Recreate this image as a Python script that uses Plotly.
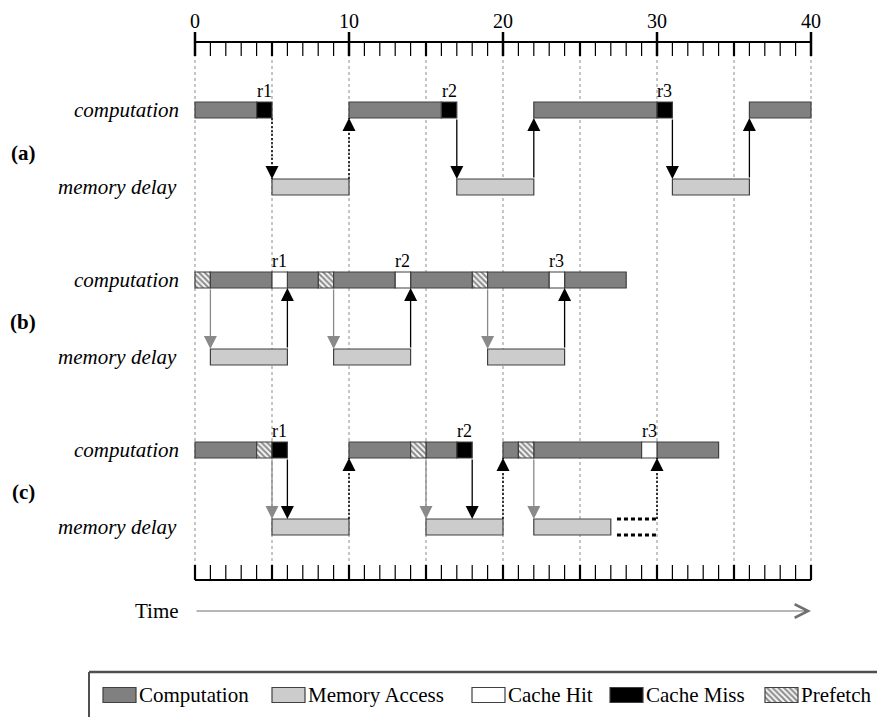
import plotly.graph_objects as go

# ---------------- data ----------------
TICK_VALUES = [0, 10, 20, 30, 40]
TICK_LABELS = ["0", "10", "20", "30", "40"]
MINOR_TICKS = list(range(0, 41))
GRID_VALUES = [0, 5, 10, 15, 20, 25, 30, 35, 40]

# (a) no prefetching
A_COMP_START = [0, 4, 10, 16, 22, 30, 36]
A_COMP_END = [4, 5, 16, 17, 30, 31, 40]
A_COMP_KIND = ["comp", "miss", "comp", "miss", "comp", "miss", "comp"]
A_MEM_START = [5, 17, 31]
A_MEM_END = [10, 22, 36]
A_REQ_X = [4.5, 16.5, 30.5]
A_ARROW_X = [5, 10, 17, 22, 31, 36]
A_ARROW_DIR = ["down", "up", "down", "up", "down", "up"]
A_ARROW_KIND = ["demand"] * 6

# (b) perfect prefetching
B_COMP_START = [0, 1, 5, 6, 8, 9, 13, 14, 18, 19, 23, 24]
B_COMP_END = [1, 5, 6, 8, 9, 13, 14, 18, 19, 23, 24, 28]
B_COMP_KIND = ["pref", "comp", "hit", "comp", "pref", "comp", "hit", "comp", "pref", "comp", "hit", "comp"]
B_MEM_START = [1, 9, 19]
B_MEM_END = [6, 14, 24]
B_REQ_X = [5.5, 13.5, 23.5]
B_ARROW_X = [1, 6, 9, 14, 19, 24]
B_ARROW_DIR = ["down", "up", "down", "up", "down", "up"]
B_ARROW_KIND = ["prefetch", "demand", "prefetch", "demand", "prefetch", "demand"]

# (c) late prefetching
C_COMP_START = [0, 4, 5, 10, 14, 15, 17, 20, 21, 22, 29, 30]
C_COMP_END = [4, 5, 6, 14, 15, 17, 18, 21, 22, 29, 30, 34]
C_COMP_KIND = ["comp", "pref", "miss", "comp", "pref", "comp", "miss", "comp", "pref", "comp", "hit", "comp"]
C_MEM_START = [5, 15, 22]
C_MEM_END = [10, 20, 27]
C_PENDING_START = [27.4]
C_PENDING_END = [30]
C_REQ_X = [5.5, 17.5, 29.5]
C_ARROW_X = [5, 6, 10, 15, 18, 20, 22, 30]
C_ARROW_DIR = ["down", "down", "up", "down", "down", "up", "down", "up"]
C_ARROW_KIND = ["prefetch", "demand", "demand", "prefetch", "demand", "demand", "prefetch", "demand"]

REQ_LABELS = ["r1", "r2", "r3"]
PANEL_LABELS = ["(a)", "(b)", "(c)"]
LEGEND_LABELS = ["Computation", "Memory Access", "Cache Hit", "Cache Miss", "Prefetch"]
LEGEND_KINDS = ["comp", "mem", "hit", "miss", "pref"]

# ---------------- layout constants ----------------
PAGE_W, PAGE_H = 885, 717
OFF = 8                          # browser default body margin
W, H = PAGE_W - OFF, PAGE_H - OFF
PX0, PXU = 195, 15.4             # page px of x=0, px per unit
X0 = (OFF - PX0) / PXU
X1 = X0 + W / PXU
BAR_H = 16
ROWS = {  # page-pixel y positions (y axis reversed)
    "a": (110, 187, 153),
    "b": (280, 357, 322),
    "c": (450, 527, 492),
}
TOP_AXIS_Y = 42
BOTTOM_AXIS_Y = 580
TIME_Y = 611
LEGEND_TOP = 672
LEGEND_LEFT_PX = 89
LEGEND_SWATCH_PX = [103, 272, 472, 610, 765]
LEGEND_SWATCH_W = 33
LEGEND_Y = 695
SERIF = "Liberation Serif, Times New Roman, serif"
EDGE = "#404040"

STYLE = {
    "comp": dict(color="#808080"),
    "mem": dict(color="#cccccc"),
    "hit": dict(color="#ffffff"),
    "miss": dict(color="#000000"),
    "pref": dict(color="#ffffff", pattern=dict(shape="\\", fgcolor="#202020", bgcolor="#ffffff", size=4, solidity=0.55)),
}


def px2x(px):
    return (px - PX0) / PXU


fig = go.Figure()
shapes = []
annotations = []


def add_bars(starts, ends, kinds, y):
    groups = {}
    for s, e, k in zip(starts, ends, kinds):
        groups.setdefault(k, []).append((s, e))
    for k, segs in groups.items():
        st = STYLE[k]
        marker = dict(color=st["color"], line=dict(color=EDGE, width=1.2))
        if "pattern" in st:
            marker["pattern"] = st["pattern"]
        fig.add_trace(go.Bar(
            orientation="h",
            base=[s for s, e in segs],
            x=[e - s for s, e in segs],
            y=[y] * len(segs),
            width=BAR_H,
            marker=marker,
            showlegend=False,
            hoverinfo="skip",
        ))


def add_arrows(xs, dirs, kinds, comp_y, mem_y):
    for x, d, k in zip(xs, dirs, kinds):
        top = comp_y + BAR_H / 2
        bot = mem_y - BAR_H / 2
        if d == "down":
            head, tail = bot, top
        else:
            head, tail = top, bot
        color = "#8a8a8a" if k == "prefetch" else "#000000"
        dotted = (k == "demand") and (x % 5 == 0)
        if dotted:
            shapes.append(dict(type="line", xref="x", yref="y", x0=x, x1=x, y0=tail, y1=head,
                               line=dict(color=color, width=1.5, dash="2px,2px")))
            sgn = -1 if d == "down" else 1
            annotations.append(dict(x=x, y=head, ax=x, ay=head + sgn * 14, xref="x", yref="y",
                                    axref="x", ayref="y", text="", showarrow=True, arrowhead=2,
                                    arrowsize=2.0, arrowwidth=1.3, arrowcolor=color, standoff=0))
        else:
            annotations.append(dict(x=x, y=head, ax=x, ay=tail, xref="x", yref="y",
                                    axref="x", ayref="y", text="", showarrow=True, arrowhead=2,
                                    arrowsize=2.0, arrowwidth=1.3, arrowcolor=color, standoff=0))


# grid lines
for g in GRID_VALUES:
    shapes.append(dict(type="line", xref="x", yref="y", x0=g, x1=g, y0=TOP_AXIS_Y, y1=BOTTOM_AXIS_Y - 14,
                       line=dict(color="#8c8c8c", width=1, dash="3px,3px"), layer="below"))

scen = [
    ("a", A_COMP_START, A_COMP_END, A_COMP_KIND, A_MEM_START, A_MEM_END, A_REQ_X, A_ARROW_X, A_ARROW_DIR, A_ARROW_KIND),
    ("b", B_COMP_START, B_COMP_END, B_COMP_KIND, B_MEM_START, B_MEM_END, B_REQ_X, B_ARROW_X, B_ARROW_DIR, B_ARROW_KIND),
    ("c", C_COMP_START, C_COMP_END, C_COMP_KIND, C_MEM_START, C_MEM_END, C_REQ_X, C_ARROW_X, C_ARROW_DIR, C_ARROW_KIND),
]

for i, (key, cs, ce, ck, ms, me, rx, axs, adir, akind) in enumerate(scen):
    comp_y, mem_y, lab_y = ROWS[key]
    add_arrows(axs, adir, akind, comp_y, mem_y)
    add_bars(cs, ce, ck, comp_y)
    add_bars(ms, me, ["mem"] * len(ms), mem_y)
    for lab, x in zip(REQ_LABELS, rx):
        annotations.append(dict(x=x, y=comp_y - BAR_H / 2 + 1, xref="x", yref="y", text=lab, showarrow=False,
                                yanchor="bottom", xanchor="center", font=dict(family=SERIF, size=18, color="black")))
    annotations.append(dict(x=px2x(181), y=comp_y, xref="x", yref="y", text="<i>computation</i>", showarrow=False,
                            xanchor="right", yanchor="middle", font=dict(family=SERIF, size=21, color="black")))
    annotations.append(dict(x=px2x(179), y=mem_y, xref="x", yref="y", text="<i>memory delay</i>", showarrow=False,
                            xanchor="right", yanchor="middle", font=dict(family=SERIF, size=21, color="black")))
    annotations.append(dict(x=px2x(23), y=lab_y, xref="x", yref="y", text="<b>%s</b>" % PANEL_LABELS[i],
                            showarrow=False, xanchor="center", yanchor="middle",
                            font=dict(family=SERIF, size=21, color="black")))

# pending (late prefetch) outline
c_mem_y = ROWS["c"][1]
for s, e in zip(C_PENDING_START, C_PENDING_END):
    for yy in (c_mem_y - BAR_H / 2, c_mem_y + BAR_H / 2):
        shapes.append(dict(type="line", xref="x", yref="y", x0=s, x1=e, y0=yy, y1=yy,
                           line=dict(color="black", width=3, dash="4px,3px")))

# top axis
shapes.append(dict(type="line", xref="x", yref="y", x0=0, x1=40, y0=TOP_AXIS_Y, y1=TOP_AXIS_Y,
                   line=dict(color="black", width=2)))
for t in MINOR_TICKS:
    if t % 10 == 0:
        y0, w = TOP_AXIS_Y - 10, 2.5
    elif t % 5 == 0:
        y0, w = TOP_AXIS_Y, 2.2
    else:
        y0, w = TOP_AXIS_Y, 1.2
    shapes.append(dict(type="line", xref="x", yref="y", x0=t, x1=t, y0=y0, y1=TOP_AXIS_Y + 14,
                       line=dict(color="black", width=w)))
for v, lab in zip(TICK_VALUES, TICK_LABELS):
    annotations.append(dict(x=v, y=20.5, xref="x", yref="y", text=lab, showarrow=False, xanchor="center",
                            yanchor="middle", borderpad=0,
                            font=dict(family=SERIF, size=20, color="black")))

# bottom axis
shapes.append(dict(type="line", xref="x", yref="y", x0=0, x1=40, y0=BOTTOM_AXIS_Y, y1=BOTTOM_AXIS_Y,
                   line=dict(color="black", width=2)))
for t in MINOR_TICKS:
    w = 2.2 if t % 5 == 0 else 1.2
    shapes.append(dict(type="line", xref="x", yref="y", x0=t, x1=t, y0=BOTTOM_AXIS_Y - 15, y1=BOTTOM_AXIS_Y,
                       line=dict(color="black", width=w)))

# time arrow
annotations.append(dict(x=40, y=TIME_Y, ax=0, ay=TIME_Y, xref="x", yref="y", axref="x", ayref="y", text="",
                        showarrow=True, arrowhead=5, arrowsize=2.2, arrowwidth=1.2, arrowcolor="#707070",
                        standoff=0))
annotations.append(dict(x=px2x(181), y=TIME_Y, xref="x", yref="y", text="Time", showarrow=False,
                        xanchor="right", yanchor="middle", font=dict(family=SERIF, size=21, color="black")))

# legend box
shapes.append(dict(type="line", xref="x", yref="y", x0=px2x(LEGEND_LEFT_PX), x1=px2x(PAGE_W + 5),
                   y0=LEGEND_TOP, y1=LEGEND_TOP, line=dict(color="#505050", width=2.5)))
shapes.append(dict(type="line", xref="x", yref="y", x0=px2x(LEGEND_LEFT_PX), x1=px2x(LEGEND_LEFT_PX),
                   y0=LEGEND_TOP, y1=PAGE_H + 5, line=dict(color="#505050", width=2)))
for lab, kind, pxl in zip(LEGEND_LABELS, LEGEND_KINDS, LEGEND_SWATCH_PX):
    st = STYLE[kind]
    marker = dict(color=st["color"], line=dict(color=EDGE, width=1.2))
    if "pattern" in st:
        marker["pattern"] = st["pattern"]
    fig.add_trace(go.Bar(orientation="h", base=[px2x(pxl)], x=[px2x(pxl + LEGEND_SWATCH_W) - px2x(pxl)],
                         y=[LEGEND_Y], width=15, marker=marker, showlegend=False, hoverinfo="skip"))
    annotations.append(dict(x=px2x(pxl + LEGEND_SWATCH_W + 1), y=LEGEND_Y, xref="x", yref="y", text=lab,
                            showarrow=False, xanchor="left", yanchor="middle",
                            font=dict(family=SERIF, size=21, color="black")))

fig.update_layout(
    width=W, height=H,
    margin=dict(l=0, r=0, t=0, b=0),
    paper_bgcolor="white", plot_bgcolor="white",
    barmode="overlay",
    showlegend=False,
    xaxis=dict(range=[X0, X1], visible=False, fixedrange=True),
    yaxis=dict(range=[PAGE_H, OFF], visible=False, fixedrange=True),
    shapes=shapes,
    annotations=annotations,
)

fig.write_html("out.html")
